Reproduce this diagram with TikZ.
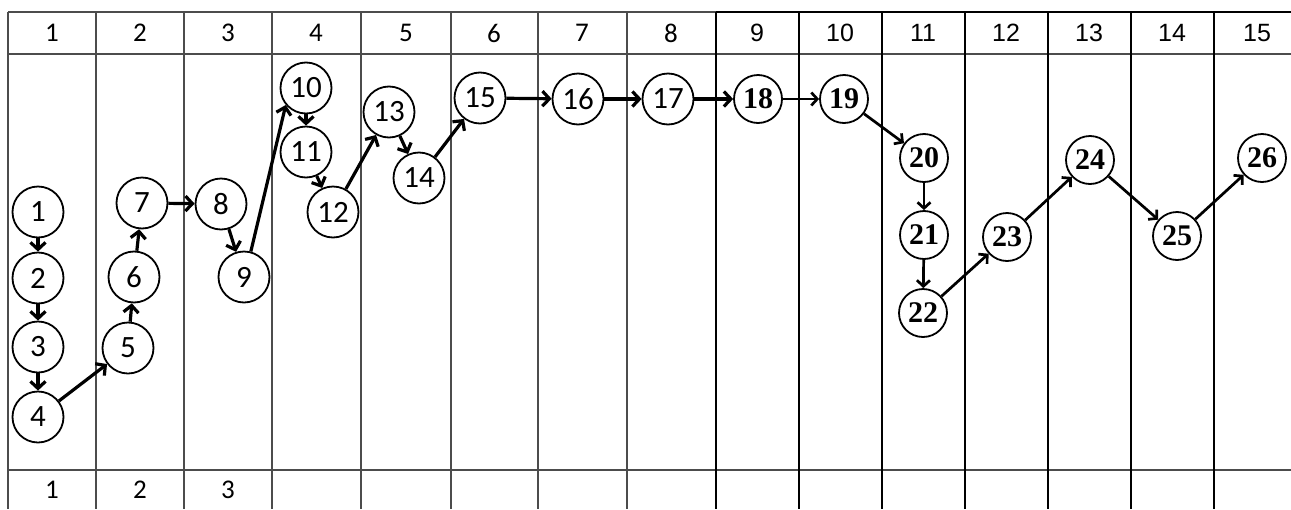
\documentclass[tikz,border=0pt]{standalone}
\usepackage{fontspec}
\setmainfont{Carlito}
\newfontfamily\arialfont{Liberation Sans}
\newfontfamily\romanfont{Liberation Serif}
\usetikzlibrary{arrows.meta}

\tikzset{
  thinrule/.style={draw=black!70, line width=1.4pt},
  thickrule/.style={draw=black, line width=2.8pt},
  headA/.style={font=\fontsize{27}{27}\selectfont},
  headB/.style={font=\arialfont\fontsize{25}{25}\selectfont},
  stateA/.style={circle, draw, line width=1.8pt, minimum size=51pt, inner sep=0pt,
    font=\fontsize{31}{31}\selectfont},
  stateB/.style={circle, draw, line width=1.8pt, minimum size=48pt, inner sep=0pt,
    font=\romanfont\bfseries\fontsize{30}{30}\selectfont},
  flow/.style={-{Straight Barb[length=7pt,width=15pt]}, line width=3.2pt},
  flowB/.style={-{Straight Barb[length=6pt,width=13pt]}, line width=2.7pt},
}

\begin{document}
\begin{tikzpicture}[x=1pt, y=-1pt]
  \useasboundingbox (0,0) rectangle (1291,509);

  % Table rules
  \draw[thinrule] (8,12) -- (716,12);
  \draw[thickrule] (716,12) -- (1291,12);
  \draw[thinrule] (8,54) -- (1291,54);
  \draw[thinrule] (8,470) -- (1291,470);
  \foreach \x in {8,96,184,272,361,451,538,627}
    \draw[thinrule] (\x,12) -- (\x,509);
  \foreach \x in {716,799,882,965,1048,1131,1214}
    \draw[thickrule] (\x,12) -- (\x,509);

  % Column numbers
  \foreach \lab/\x in {1/52,2/140,3/228,4/316,5/406,6/494,7/582,8/671}
    \node[headA] (h\lab) at (\x,33) {\lab};
  \foreach \lab/\x in {9/757,10/840,11/923,12/1006,13/1089,14/1172,15/1257}
    \node[headB] (h\lab) at (\x,33) {\lab};
  \foreach \lab/\x in {1/52,2/140,3/228}
    \node[headA] (f\lab) at (\x,490) {\lab};

  % States
  \foreach \n/\x/\y in {1/38/212, 2/38/278, 3/38/347, 4/38/417, 5/128/348,
      6/134/277, 7/142/203, 8/221/204, 9/244/277, 10/306/88, 11/306/152,
      12/333/212, 13/389/112, 14/419/178, 15/480/98, 16/578/99, 17/668/99}
    \node[stateA] (n\n) at (\x,\y) {\n};
  \foreach \n/\x/\y in {18/758/99, 19/844/99, 20/924/158, 21/924/235,
      22/923/313, 23/1007/237, 24/1090/160, 25/1177/236, 26/1262/158}
    \node[stateB] (n\n) at (\x,\y) {\n};

  % Transitions
  \foreach \a/\b in {1/2,2/3,3/4,4/5,5/6,6/7,7/8,8/9,10/11,11/12,12/13,
      13/14,14/15,15/16,16/17,17/18}
    \draw[flow] (n\a) -- (n\b);
  \draw[flow] (n9.75) -- (n10.220);
  \foreach \a/\b in {18/19,19/20,20/21,21/22,22/23,23/24,24/25,25/26}
    \draw[flowB] (n\a) -- (n\b);
\end{tikzpicture}
\end{document}
